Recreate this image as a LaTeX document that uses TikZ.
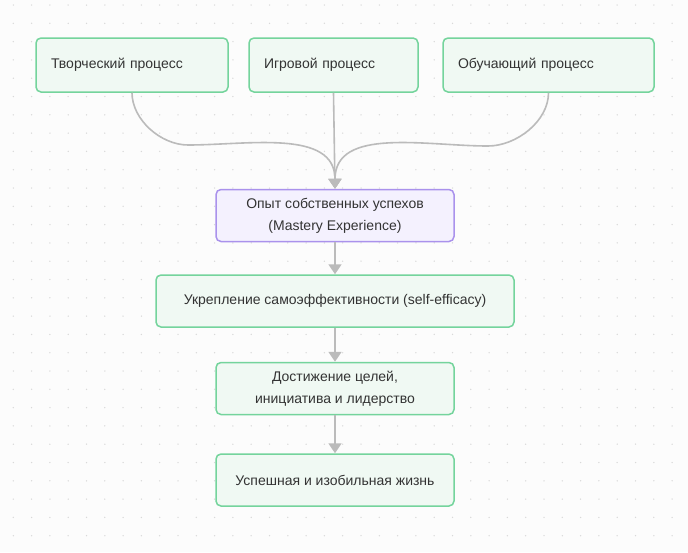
\documentclass[tikz,border=0pt]{standalone}
\usepackage{fontspec}
\setmainfont{Liberation Sans}
\usepackage{tikz}
\usetikzlibrary{positioning,arrows.meta}
\definecolor{bgpaper}{HTML}{FCFCFC}
\definecolor{griddot}{HTML}{D9D9D9}
\definecolor{greenline}{HTML}{74D49C}
\definecolor{greenfill}{HTML}{F0F9F3}
\definecolor{purpleline}{HTML}{AA92EC}
\definecolor{purplefill}{HTML}{F4F1FE}
\definecolor{linkgray}{HTML}{BBBBBB}
\definecolor{textgray}{HTML}{333333}

\begin{document}
\begin{tikzpicture}[
  x=1pt, y=-1pt,
  node distance=32pt,
  box/.style={draw=greenline, fill=greenfill, line width=1.5pt, rounded corners=5pt,
    align=center, text=textgray, font=\fontsize{14}{22}\selectfont,
    minimum height=52pt, minimum width=238pt},
  srcbox/.style={box, align=left, inner xsep=15pt, minimum height=54pt, minimum width=0pt},
  mastery/.style={box, draw=purpleline, fill=purplefill},
  link/.style={draw=linkgray, line width=1.6pt, -{Triangle[length=10pt,width=13pt]}}
]
\fill[bgpaper] (0,0) rectangle (688,552);
\useasboundingbox (0,0) rectangle (688,552);
% dotted grid
\foreach \gx in {0,...,37}
  \foreach \gy in {0,...,29}
    \fill[griddot] (13.3+18.3*\gx, 5+18.3*\gy) circle (0.75pt);

% sources
\node[srcbox, text width=162pt] (creative) at (132,65) {Творческий процесс};
\node[srcbox, text width=139pt] (play) at (333.5,65) {Игровой процесс};
\node[srcbox, text width=181pt] (learn) at (548.5,65) {Обучающий процесс};

% chain
\node[mastery] (mastery) at (335,215.5) {Опыт собственных успехов\\(Mastery Experience)};
\node[box, minimum width=358pt, below=of mastery] (selfeff) {Укрепление самоэффективности (self-efficacy)};
\node[box, below=34pt of selfeff] (goals) {Достижение целей,\\инициатива и лидерство};
\node[box, below=38pt of goals] (life) {Успешная и изобильная жизнь};

\coordinate (lbend) at (188,145);
\coordinate (rbend) at (488,146);

\draw[link] (creative.south) to[out=-90,in=180,looseness=0.9] (lbend)
  to[out=0,in=90,looseness=1] (mastery.north);
\draw[link] (play.south) -- (mastery.north);
\draw[link] (learn.south) to[out=-90,in=0,looseness=0.9] (rbend)
  to[out=180,in=90,looseness=1] (mastery.north);
\draw[link] (mastery) -- (selfeff);
\draw[link] (selfeff) -- (goals);
\draw[link] (goals) -- (life);
\end{tikzpicture}
\end{document}
